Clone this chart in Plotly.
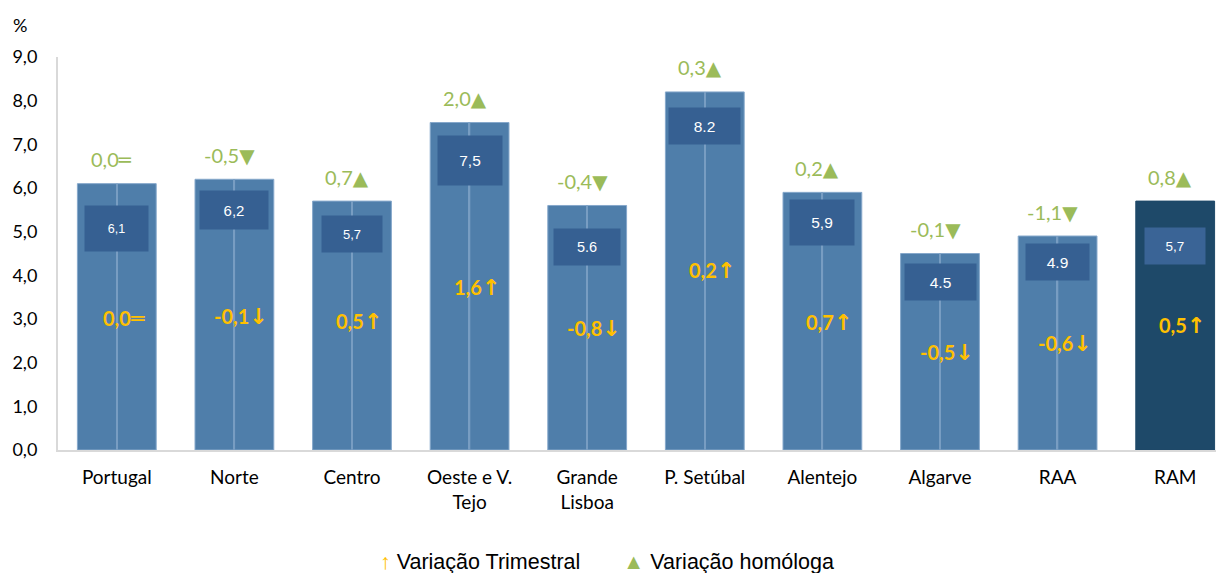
import plotly.graph_objects as go

# ---- data ----
regions = ["Portugal", "Norte", "Centro", "Oeste e V.<br>Tejo", "Grande<br>Lisboa",
           "P. Setúbal", "Alentejo", "Algarve", "RAA", "RAM"]
rate = [6.1, 6.2, 5.7, 7.5, 5.6, 8.2, 5.9, 4.5, 4.9, 5.7]
rate_labels = ["6,1", "6,2", "5,7", "7,5", "5.6", "8.2", "5,9", "4.5", "4.9", "5,7"]
var_homologa = [0.0, -0.5, 0.7, 2.0, -0.4, 0.3, 0.2, -0.1, -1.1, 0.8]
var_trimestral = [0.0, -0.1, 0.5, 1.6, -0.8, 0.2, 0.7, -0.5, -0.6, 0.5]
y_ticks = [0, 1, 2, 3, 4, 5, 6, 7, 8, 9]

# ---- layout / style (positions & sizes, not data) ----
trim_label_y = [3.02, 3.05, 2.95, 3.73, 2.79, 4.12, 2.93, 2.24, 2.45, 2.84]
box_w = [63, 68, 60, 64, 66, 71, 64, 71, 63, 60]
box_h = [45, 38, 36, 49, 36, 36, 45, 36, 36, 36]
box_off = [45, 31, 33, 38, 42, 34, 30, 28, 26, 45]
box_font = [12.5, 15, 13, 15.5, 14.5, 15.5, 15.5, 15.5, 15.5, 13.5]

BAR = "#4F7EAA"
BAR_DARK = "#1E4969"
BOX = "#366092"
BOX_RAM = "#3A6496"
GREEN = "#9BBB59"
YELLOW = "#FFC000"
FONT = "Lato, Calibri, sans-serif"
SYMFONT = "DejaVu Sans"

n = len(regions)
xs = list(range(n))
bar_colors = [BAR] * (n - 1) + [BAR_DARK]
line_colors = ["#86A8CB"] * (n - 1) + [BAR_DARK]
mid_colors = ["#789DC2"] * (n - 1) + [BAR_DARK]
box_colors = [BOX] * (n - 1) + [BOX_RAM]


def fmt(v):
    s = f"{abs(v):.1f}".replace(".", ",")
    return ("-" if v < 0 else "") + s


def sym_hom(v):
    return "▲" if v > 0 else ("▼" if v < 0 else "═")


def sym_trim(v):
    return "↑" if v > 0 else ("↓" if v < 0 else "═")


def sym_span(s, size):
    return "<span style='font-family:%s;font-size:%dpx'>%s</span>" % (SYMFONT, size, s)


fig = go.Figure()
fig.add_trace(go.Bar(x=xs, y=rate, width=0.67, marker=dict(color=bar_colors,
                     line=dict(color=line_colors, width=1)), hoverinfo="skip"))
fig.add_trace(go.Bar(x=xs, y=rate, width=0.012, marker=dict(color=mid_colors, line=dict(width=0)),
                     hoverinfo="skip"))

ann = []
for i in xs:
    # value boxes
    ann.append(dict(x=i, y=rate[i], xref="x", yref="y", text=rate_labels[i], showarrow=False,
                    yanchor="middle", yshift=-box_off[i], width=box_w[i], height=box_h[i],
                    bgcolor=box_colors[i], borderpad=0, align="center", valign="middle",
                    font=dict(family="Arial, Liberation Sans", size=box_font[i], color="white")))
    # homologous variation (green, above bar)
    ann.append(dict(x=i, y=rate[i], xref="x", yref="y",
                    text=fmt(var_homologa[i]) + sym_span(sym_hom(var_homologa[i]), 20),
                    showarrow=False,
                    yanchor="middle", yshift=24, xshift=-5,
                    font=dict(family=FONT, size=20, color=GREEN)))
    # quarterly variation (yellow, inside bar)
    ann.append(dict(x=i, y=trim_label_y[i], xref="x", yref="y",
                    text="<b>" + fmt(var_trimestral[i]) + sym_span(sym_trim(var_trimestral[i]), 22) + "</b>",
                    showarrow=False, yanchor="middle", xshift=7,
                    font=dict(family=FONT, size=20, color=YELLOW)))

# % unit
ann.append(dict(x=-0.0326, y=1.081, xref="paper", yref="paper", text="%", showarrow=False,
                xanchor="center", yanchor="middle", font=dict(family=FONT, size=18, color="black")))
# legend
ann.append(dict(x=0.2744, y=-0.285, xref="paper", yref="paper",
                text="<span style='color:%s'>↑</span> Variação Trimestral" % YELLOW,
                showarrow=False, xanchor="left", yanchor="middle",
                font=dict(family="Arial, Liberation Sans", size=21.5, color="black")))
ann.append(dict(x=0.483, y=-0.285, xref="paper", yref="paper",
                text="<span style='color:%s'>▲</span> Variação homóloga" % GREEN,
                showarrow=False, xanchor="left", yanchor="middle",
                font=dict(family="Arial, Liberation Sans", size=21.5, color="black")))

# page body has an 8px margin: figure is 8px smaller, margins reduced by 8
fig.update_layout(
    width=1216, height=565,
    margin=dict(l=50, r=0, t=49, b=123),
    paper_bgcolor="white", plot_bgcolor="white",
    barmode="overlay", showlegend=False,
    annotations=ann,
    xaxis=dict(range=[-0.5, 9.415], tickmode="array", tickvals=xs, ticktext=regions,
               showgrid=False, zeroline=False, showline=True, linecolor="#D9D9D9", linewidth=2,
               ticks="", ticklabelstandoff=9,
               tickfont=dict(family=FONT, size=19, color="black")),
    yaxis=dict(range=[0, 9], tickmode="array", tickvals=y_ticks,
               ticktext=[fmt(v) for v in y_ticks], showgrid=False, zeroline=False,
               showline=True, linecolor="#D9D9D9", linewidth=2, ticks="",
               ticklabelstandoff=15,
               tickfont=dict(family=FONT, size=18, color="black")),
)

fig.write_html("out.html")
